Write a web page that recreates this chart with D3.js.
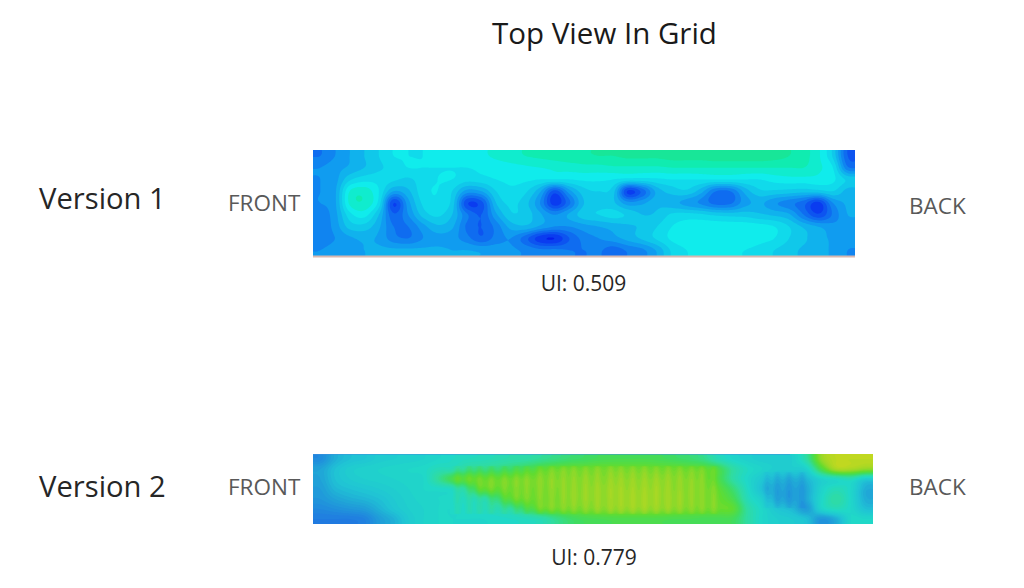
<!DOCTYPE html>
<html>
<head>
<meta charset="utf-8">
<script src="https://cdn.jsdelivr.net/npm/d3@7"></script>
<style>
html, body { margin: 0; padding: 0; background: #fff; }
text { font-family: "Open Sans", sans-serif; }
</style>
</head>
<body>
<div id="chart"></div>
<script>
// field values, one row per band from top to bottom
var v1Values = [
  [2.5,3,3.5,4,4.5,5,5,5,5.2,5.2,5.3,5.4,5.6,5.8,6,6.1,6.2,6.3,6.4,6.5,6.5,6.6,6.6,6.6,6.7,6.7,6.7,6.8,6.8,6.8,6.8,6.7,6.5,6.2,5.6,4.4,2],
  [3,3.3,3.6,4,4.4,4.7,5,5,5,5,5,5.1,5.2,5.3,5.4,5.5,5.6,5.7,5.8,5.8,5.9,5.9,5.9,5.9,6,6,6,6,6,6,6,6,6,6,5.6,5,2.6],
  [3,3.3,4.4,4.8,4.8,4.6,4.4,4.8,5,5,4.7,4.8,5,5.1,5.1,5,5,5,5.1,5.1,5,4.8,4.8,4.9,5,5,5,5,5,5,5,5.2,5.3,5.3,5.3,5.1,4.4],
  [3,3.4,5.5,5.8,5,3.5,3.9,4.8,5,4.5,3.3,3.5,4.5,4.9,4.6,3.6,1.8,3.3,4.3,4.5,4.2,1.4,2.2,3.7,4.2,4.4,3.7,2.5,2.5,3.7,4.4,4.4,4.3,4.2,4.3,4.5,3.8],
  [3,3.4,5.6,5.9,4.8,1.5,3.3,4.6,4.9,4.3,1.6,1.8,4,4.6,4.2,3,1.2,2.4,4,4.3,4.1,3.2,3.4,3.9,3.7,3.3,2.9,2.3,2.4,3.3,3.6,3.1,2.7,2.2,1.3,3,3.6],
  [2.7,3.3,4.8,5.2,4,2.1,3,4.2,4.6,4,2.6,2,3.4,4.4,4.3,3.6,3,3.6,4.3,4.5,4.7,4.4,4,4.1,4.6,4.7,4.6,4.4,4.3,4.3,4.1,3.9,3.6,2.5,1.6,2.6,3.5],
  [2.6,3.2,4.2,4.3,3.6,2.5,2.5,3.3,3.9,3.6,2.4,2,2.7,3.7,3.9,3.4,3,3,3.3,3.5,3.7,3.9,4.1,4.5,5,5.2,5.3,5.3,5.3,5.3,5.2,5,4.5,3.9,3.5,3.2,3.2],
  [2.7,3,3.4,3.6,3.4,2.7,2.5,3,3.3,3.2,2.7,2.1,2.7,3,2.2,1.2,1,2,2.7,3,3.3,3.7,4.1,4.6,5.1,5.3,5.4,5.4,5.4,5.4,5.2,5,4.5,4.1,3.7,3.4,3.2],
  [3,3.2,3.4,3.5,3.6,3.6,3.6,3.6,3.6,3.5,3.5,3.4,3.3,3.1,2.9,2.6,2.6,2.5,2.5,2.6,2.2,2.6,2.9,3.6,4.6,5,5.1,5.1,5.1,5,4.8,4.5,4.2,3.9,3.7,3.4,3]
];
var v2Values = [
  [2.5,3.5,4,4.2,4.5,4.6,4.7,4.8,5,5.2,5.4,5.5,5.7,5.9,6,6.3,6.6,6.9,7.1,7.3,7.4,7.4,7.4,7.3,7.1,6.9,6.5,5.6,5,4.7,4.5,4.5,4.6,6,9,10,10,10],
  [3.2,4,4.5,4.7,4.8,4.9,5,5.1,5.5,5.6,6.2,6.4,6.6,6.9,7.3,7.8,8.1,8.2,8.2,8.3,8.3,8.3,8.3,8.2,8.2,8.1,8,7.4,6,5.2,4.8,4.5,4.5,4.8,7.5,9.5,9.5,9],
  [3.2,4,4.4,4.6,4.7,4.8,4.9,5,6.2,7.4,7.8,8,8.1,8.2,8.3,8.4,8.5,8.5,8.6,8.6,8.7,8.7,8.7,8.7,8.6,8.5,8.3,7.5,6,5,4.3,3.8,3.6,3.8,4.8,5.2,5.5,4.5],
  [3,3.7,4,4.2,4.4,4.6,4.8,5,5.1,5.3,6.2,7.8,8,8.2,8.3,8.4,8.5,8.6,8.7,8.8,8.9,8.9,8.9,8.9,8.7,8.6,8.4,8,6.8,5.2,4,3.4,3.2,3.4,4.8,5.5,5,3.5],
  [2.8,3.2,3.5,3.7,4,4.4,4.7,4.9,5,5.1,5.3,5.6,6.6,7.8,8.1,8.3,8.4,8.6,8.7,8.8,8.9,9,9,8.9,8.8,8.6,8.4,8.2,7.4,5.5,4.6,3.5,3.2,3.4,5,6,5,3.5],
  [2.4,2.6,2.8,3,3.6,4.2,4.6,4.8,5,5,5.1,5.3,5.6,6,7,8,8.2,8.3,8.4,8.6,8.7,8.8,8.8,8.7,8.6,8.4,8.3,8.2,8,6,5,4.2,3.8,3,4.8,5.4,5,4],
  [2,2,2,2.2,3,3.6,4.4,4.8,5,5,5,5,5.1,5.2,5.4,5.7,6.4,7,7.3,7.4,7.5,7.5,7.5,7.5,7.4,7.4,7.3,7.3,7.2,6,5,4.6,4.4,4,2.8,3.5,5,5]
];
var colourStops = [0, 1, 2, 3, 4, 5, 6, 7, 8, 9, 10];
var v1Colours = ["#0000e6", "#0a3cf0", "#0f6cf0", "#109cf0", "#10c8ea", "#10ecec", "#10ecb0", "#20e080", "#50e030", "#90d828", "#c0d820"];
var v2Colours = ["#1040e0", "#1a60e0", "#2080e0", "#20a0d8", "#20c4d4", "#20d8c8", "#30dca0", "#40dc60", "#60dc30", "#98d828", "#c0d820"];
// ripple ridges in the second field, in grid columns
var v2YellowRidges = [9.8, 10.6, 11.3, 12.1, 13, 13.8, 14.5, 15.4, 16.2, 17, 17.7, 18.5, 19.3, 20.2, 20.9, 21.7, 22.5, 23.3, 24.1, 24.9, 25.7, 26.4, 27.2];
var v2BlueRidges = [30.8, 31.5, 32.3, 33.2];

var svg = d3.select("#chart").append("svg").attr("width", 1024).attr("height", 588);
var defs = svg.append("defs");

function catmull(a, b, c, d, t) {
    return 0.5 * (2 * b + (c - a) * t + (2 * a - 5 * b + 4 * c - d) * t * t + (3 * b - a - 3 * c + d) * t * t * t);
}

// resamples the read values on a finer grid so the bands come out round
function resample(values, k, extra) {
    var rows = values.length, cols = values[0].length;
    var w = cols * k + 2, h = rows * k + 2, out = new Array(w * h);
    function at(r, c) {
        return values[Math.max(0, Math.min(rows - 1, r))][Math.max(0, Math.min(cols - 1, c))];
    }
    for (var j = 0; j < h; j++) {
        var v = (j - 0.5) / k, gy = v - 0.5, r0 = Math.floor(gy), ty = gy - r0;
        for (var i = 0; i < w; i++) {
            var u = (i - 0.5) / k, gx = u - 0.5, c0 = Math.floor(gx), tx = gx - c0, col = [];
            for (var n = -1; n < 3; n++) {
                col.push(catmull(at(r0 + n, c0 - 1), at(r0 + n, c0), at(r0 + n, c0 + 1), at(r0 + n, c0 + 2), tx));
            }
            out[j * w + i] = catmull(col[0], col[1], col[2], col[3], ty) + (extra ? extra(u, v) : 0);
        }
    }
    return { data: out, w: w, h: h };
}

function drawField(id, values, colours, step, k, box, extra) {
    var fine = resample(values, k, extra);
    var x = d3.scaleLinear().domain([1, fine.w - 1]).range([box.x0, box.x1]);
    var y = d3.scaleLinear().domain([1, fine.h - 1]).range([box.y0, box.y1]);
    var colour = d3.scaleLinear().domain(colourStops).range(colours);
    var path = d3.geoPath(d3.geoTransform({
        point: function (px, py) { this.stream.point(x(px), y(py)); }
    }));
    var contours = d3.contours().size([fine.w, fine.h]).thresholds(d3.range(0, 10.01, step));

    defs.append("clipPath").attr("id", id).append("rect")
        .attr("x", box.x0).attr("y", box.y0)
        .attr("width", box.x1 - box.x0).attr("height", box.y1 - box.y0);

    svg.append("g").attr("clip-path", "url(#" + id + ")")
        .selectAll("path")
        .data(contours(fine.data))
        .join("path")
        .attr("d", path)
        .attr("fill", function (d) { return colour(d.value); });
}

function ridges(u, v) {
    var total = 0;
    var across = v > 1.2 && v < 6 ? 1 : 0;
    var blue = v > 1.8 && v < 5.4 ? 1 : 0;
    v2YellowRidges.forEach(function (c) {
        var d = (u - c) / 0.17;
        total += across * 0.55 * Math.exp(-d * d / 2);
    });
    v2BlueRidges.forEach(function (c) {
        var d = (u - c) / 0.16;
        total -= blue * 0.4 * Math.exp(-d * d / 2);
    });
    return total;
}

drawField("clip1", v1Values, v1Colours, 0.5, 8, { x0: 313, x1: 855, y0: 150, y1: 256 });
drawField("clip2", v2Values, v2Colours, 0.2, 10, { x0: 313, x1: 873, y0: 454, y1: 524 }, ridges);

// tan line under the first field, thin blue edge on top of the second
svg.append("line")
    .attr("x1", 313).attr("x2", 855)
    .attr("y1", 256.5).attr("y2", 256.5)
    .attr("stroke", "#d8b8b0").attr("stroke-width", 2);
svg.append("line")
    .attr("x1", 313).attr("x2", 790)
    .attr("y1", 454.5).attr("y2", 454.5)
    .attr("stroke", "#3f90e0").attr("stroke-width", 1).attr("opacity", 0.5);

function label(txt, px, py, size, colour, anchor) {
    svg.append("text").attr("x", px).attr("y", py)
        .attr("font-size", size).attr("fill", colour)
        .attr("text-anchor", anchor || "start")
        .text(txt);
}

label("Top View In Grid", 604.5, 44, 29.5, "#1a1a1a", "middle");
label("Version 1", 39, 209, 29.2, "#262626");
label("Version 2", 39, 497, 29.2, "#262626");
label("FRONT", 228, 211, 22.5, "#595959");
label("BACK", 909, 214, 22.5, "#595959");
label("FRONT", 228, 495, 22.5, "#595959");
label("BACK", 909, 495, 22.5, "#595959");
label("UI: 0.509", 583.5, 291, 21, "#262626", "middle");
label("UI: 0.779", 594, 565, 21, "#262626", "middle");
</script>
</body>
</html>
